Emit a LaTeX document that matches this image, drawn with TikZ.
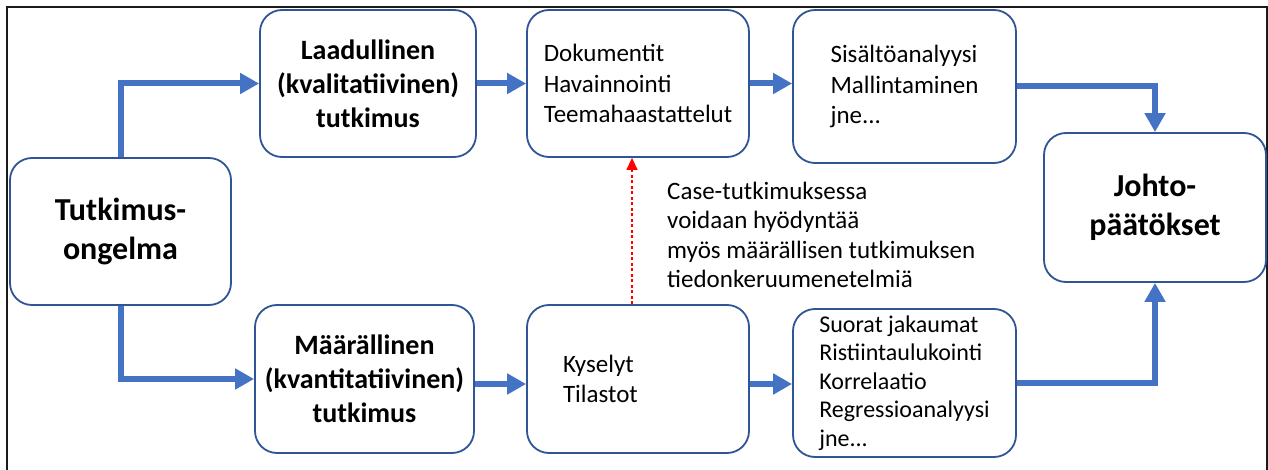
\documentclass[tikz,border=0pt]{standalone}
\usepackage{fontspec}
\setmainfont{Carlito}
\usetikzlibrary{arrows.meta,calc}
\definecolor{boxline}{HTML}{2F5597}
\definecolor{flow}{HTML}{4472C4}
\definecolor{framecol}{HTML}{1A1A1A}
\begin{document}
\begin{tikzpicture}[x=1pt,y=-1pt,
  box/.style={draw=boxline, line width=1.8pt, rounded corners=22pt, fill=white,
    inner sep=0pt, align=center},
  headtext/.style={font=\bfseries\fontsize{28pt}{34pt}\selectfont},
  bigtext/.style={font=\bfseries\fontsize{32pt}{39pt}\selectfont},
  listtext/.style={font=\fontsize{25pt}{30.5pt}\selectfont, align=left},
  smalllist/.style={font=\fontsize{24pt}{28.5pt}\selectfont, align=left},
  flowarrow/.style={draw=flow, line width=6pt, -{Triangle[length=19pt,width=20pt]}},
  linkarrow/.style={draw=red, line width=1.4pt, dash pattern=on 3pt off 2.5pt,
    -{Triangle[length=12pt,width=11pt]}}]
\useasboundingbox (0,0) rectangle (1268,470);
\fill[white] (0,0) rectangle (1268,470);
% outer frame
\draw[framecol, line width=2pt] (7,470) -- (7,7) -- (1267,7) -- (1267,470);

% boxes
\node[box, bigtext, minimum width=221pt, minimum height=147pt] (prob) at (120.5,231.5)
  {Tutkimus-\\ongelma};
\node[box, headtext, minimum width=216pt, minimum height=147pt] (qual) at (368,83.5)
  {Laadullinen\\(kvalitatiivinen)\\tutkimus};
\node[box, listtext, minimum width=222pt, minimum height=147pt] (docs) at (638,83.5)
  {Dokumentit\\Havainnointi\\Teemahaastattelut};
\node[box, listtext, minimum width=223pt, minimum height=153pt] (anal) at (904.5,86.5)
  {Sisältöanalyysi\\Mallintaminen\\jne...};
\node[box, bigtext, minimum width=222pt, minimum height=149pt] (concl) at (1155,207.5)
  {Johto-\\päätökset};
\node[box, headtext, minimum width=219pt, minimum height=148pt] (quant) at (364.5,379)
  {Määrällinen\\(kvantitatiivinen)\\tutkimus};
\node[box, listtext, text width=150pt, minimum width=222pt, minimum height=148pt] (surv) at (638,379)
  {Kyselyt\\Tilastot};
\node[box, smalllist, minimum width=223pt, minimum height=148pt] (stat) at (904.5,383)
  {Suorat jakaumat\\Ristiintaulukointi\\Korrelaatio\\Regressioanalyysi\\jne...};

% note beside the dashed link
\node[listtext, font=\fontsize{25pt}{29.5pt}\selectfont, inner sep=0pt, anchor=west] (note) at (667,235)
  {Case-tutkimuksessa\\voidaan hyödyntää\\myös määrällisen tutkimuksen\\tiedonkeruumenetelmiä};

% main flow
\draw[flowarrow] (prob.north) |- (qual.west);
\draw[flowarrow] (prob.south) |- (quant.west);
\draw[flowarrow] (qual.east) -- (docs.west);
\draw[flowarrow] (docs.east) -- (docs.east -| anal.west);
\draw[flowarrow] (anal.east) -| (concl.north);
\draw[flowarrow] ([yshift=-5pt]quant.east) -- ([yshift=-5pt]surv.west);
\draw[flowarrow] ([yshift=-5pt]surv.east) -- ([yshift=-5pt]surv.east -| stat.west);
\draw[flowarrow] (stat.east) -| (concl.south);

% dashed link from survey methods to case study methods
\draw[linkarrow] ([xshift=-6pt]surv.north) -- ([xshift=-6pt]docs.south);
\end{tikzpicture}
\end{document}
